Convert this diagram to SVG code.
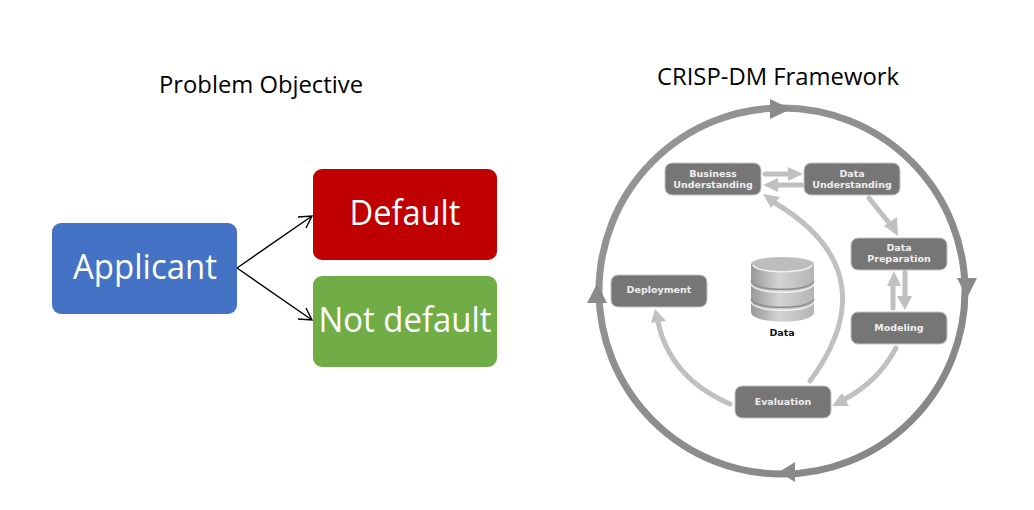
<svg xmlns="http://www.w3.org/2000/svg" width="1034" height="510" viewBox="0 0 1034 510">
<style>
.t{font-family:"Open Sans","Noto Sans","Liberation Sans",sans-serif;text-anchor:middle}
.title{font-size:23px;fill:#000}
.big{font-size:34px;fill:#fff}
.n{fill:#767676;stroke:#c4c4c4;stroke-width:1}
.nt{font-family:"DejaVu Sans",sans-serif;font-size:9.5px;font-weight:700;fill:#efefef;text-anchor:middle}
.inner{fill:none;stroke:#c0c0c0;stroke-width:5;stroke-linecap:round}
.ih{fill:#c0c0c0}
.oh{fill:#8a8a8a}
.c{stroke:#000;stroke-width:1.4;fill:none}
.rim{fill:none;stroke:#f0f0f0;stroke-width:1.5}
.groove{fill:none;stroke:#8e8e8e;stroke-width:1.5}
</style>
<defs>
<linearGradient id="cyl" x1="0" x2="1" y1="0" y2="0"><stop offset="0" stop-color="#989898"/><stop offset=".45" stop-color="#d4d4d4"/><stop offset="1" stop-color="#b4b4b4"/></linearGradient>
<linearGradient id="ring" x1="0" x2="1" y1="0" y2="1"><stop offset="0" stop-color="#969696"/><stop offset="1" stop-color="#858585"/></linearGradient>
</defs>
<text class="t title" x="261" y="93" textLength="204" lengthAdjust="spacingAndGlyphs">Problem Objective</text>
<text class="t title" x="778" y="85" textLength="242" lengthAdjust="spacingAndGlyphs">CRISP-DM Framework</text>
<g id="connectors">
<path class="c" d="M237 268L312 216M298 217L312 216L306 228M237 268L312 320M306 308L312 320L298 319"/>
<circle cx="782" cy="291" r="183" fill="none" stroke="url(#ring)" stroke-width="7"/>
<path class="oh" d="M791 109L770 99V119Z"/>
<path class="oh" d="M967 298L957 278H977Z"/>
<path class="oh" d="M779 472L795 462V482Z"/>
<path class="oh" d="M597 284L587 303H607Z"/>
<path class="inner" d="M765 174H790M802 185H775"/>
<path class="ih" d="M803 174L788 167V181ZM763 185L778 178V192Z"/>
<path class="inner" d="M869 198Q880 212 890 224"/>
<path class="ih" d="M898 236L884 226L897 217Z"/>
<path class="inner" d="M893 308V282M905 272V298"/>
<path class="ih" d="M894 271L887 286H901ZM905 310L897 296H912Z"/>
<path class="inner" d="M896 348Q878 382 843 400"/>
<path class="ih" d="M832 406L842 393L849 406Z"/>
<path class="inner" d="M730 404Q670 378 658 322"/>
<path class="ih" d="M655 309L651 323L666 321Z"/>
<path class="inner" d="M810 381C855 320 862 255 775 203"/>
<path class="ih" d="M763 194L780 197L771 208Z"/>
</g>
<g id="applicant"><rect x="52" y="223" width="185" height="91" rx="9" fill="#4472c4"/><text class="t big" x="145" y="279" textLength="144" lengthAdjust="spacingAndGlyphs">Applicant</text></g>
<g id="default"><rect x="313" y="169" width="184" height="91" rx="9" fill="#c00000"/><text class="t big" x="405" y="225" textLength="111" lengthAdjust="spacingAndGlyphs">Default</text></g>
<g id="not-default"><rect x="313" y="276" width="184" height="91" rx="9" fill="#70ad47"/><text class="t big" x="405" y="332" textLength="173" lengthAdjust="spacingAndGlyphs">Not default</text></g>
<g id="business-understanding"><rect class="n" x="665" y="163" width="96" height="32" rx="7"/><text class="nt" x="713" y="177">Business</text><text class="nt" x="713" y="188">Understanding</text></g>
<g id="data-understanding"><rect class="n" x="804" y="163" width="96" height="32" rx="7"/><text class="nt" x="852" y="177">Data</text><text class="nt" x="852" y="188">Understanding</text></g>
<g id="data-preparation"><rect class="n" x="851" y="238" width="96" height="32" rx="7"/><text class="nt" x="899" y="251">Data</text><text class="nt" x="899" y="262">Preparation</text></g>
<g id="modeling"><rect class="n" x="851" y="312" width="96" height="32" rx="7"/><text class="nt" x="899" y="331">Modeling</text></g>
<g id="evaluation"><rect class="n" x="735" y="386" width="96" height="32" rx="7"/><text class="nt" x="783" y="405">Evaluation</text></g>
<g id="deployment"><rect class="n" x="611" y="275" width="96" height="32" rx="7"/><text class="nt" x="659" y="293">Deployment</text></g>
<g id="data">
<path d="M751 264V312C751 325 814 325 814 312V264Z" fill="url(#cyl)"/>
<ellipse cx="782.500" cy="264" rx="31.500" ry="7" fill="#bdbdbd"/>
<path class="rim" d="M753 265C757 274 808 274 812 265"/>
<path class="groove" d="M751 281C755 292 810 292 814 281"/>
<path class="rim" d="M751 284C755 295 810 295 814 284"/>
<path class="groove" d="M751 299C755 310 810 310 814 299"/>
<path class="rim" d="M751 302C755 313 810 313 814 302"/>
<text x="782" y="336" font-family="DejaVu Sans,sans-serif" font-size="9.5" font-weight="700" text-anchor="middle" fill="#111">Data</text>
</g>
</svg>
